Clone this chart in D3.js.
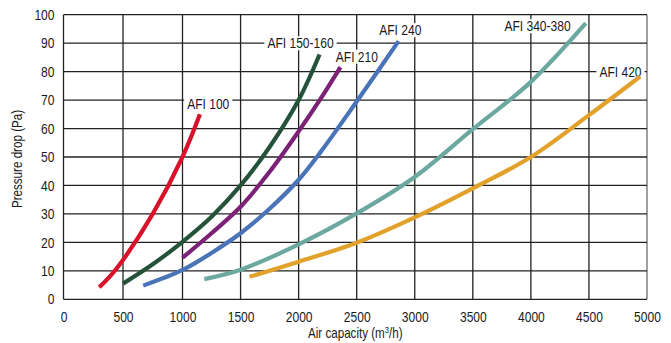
<!DOCTYPE html>
<html>
<head>
<meta charset="utf-8">
<script src="https://cdn.jsdelivr.net/npm/d3@7"></script>
<style>
  html, body { margin: 0; padding: 0; background: #fff; }
  svg { display: block; }
  text { font-family: "Liberation Sans", Arial, sans-serif; fill: #1a1a1a; }
</style>
</head>
<body>
<svg id="chart" width="671" height="343"></svg>
<script>
// Pressure drop curves per filter model: [air capacity m³/h, pressure drop Pa]
const afi100    = [[300, 4.2], [400, 8.5], [500, 13.8], [750, 30], [1000, 50], [1150, 65]];
const afi150160 = [[500, 5.5], [750, 12.3], [1000, 20.2], [1250, 29], [1500, 40], [1750, 53.5], [2000, 70], [2180, 86]];
const afi210    = [[1000, 14.6], [1250, 23.2], [1500, 32.5], [1750, 44.8], [2000, 59], [2190, 70.5], [2360, 81.6]];
const afi240    = [[670, 4.8], [1000, 10.3], [1250, 16.3], [1500, 23.2], [1750, 31.8], [2000, 42], [2190, 51.8], [2500, 69.5], [2861, 90.7]];
const afi340380 = [[1188, 7.1], [1500, 10.4], [2000, 19.3], [2500, 30.2], [3000, 43], [3500, 59.8], [4000, 76.4], [4473, 97]];
const afi420    = [[1578, 7.9], [2000, 13.2], [2500, 19.9], [3000, 28.8], [3500, 39], [4000, 50], [4500, 64.7], [4941, 78.3]];

const seriesNames  = ["AFI 100", "AFI 150-160", "AFI 210", "AFI 240", "AFI 340-380", "AFI 420"];
const seriesData   = [afi100, afi150160, afi210, afi240, afi340380, afi420];
const seriesColors = ["#d9112b", "#24533a", "#7b2277", "#4a74b8", "#6ba89f", "#e2a12a"];
// Where each curve's name sits, in data units (left edge of text, vertical centre)
const labelAnchors = [[1040, 68.8], [1731, 90], [2320, 85.3], [2694, 94.6], [3772, 96], [4590, 80]];

const xTicks = [0, 500, 1000, 1500, 2000, 2500, 3000, 3500, 4000, 4500, 5000];
const yTicks = [0, 10, 20, 30, 40, 50, 60, 70, 80, 90, 100];

// condensed lettering: squeeze each single-run text horizontally
const NARROW = 0.83;
function narrow(sel) {
  sel.each(function () {
    const len = this.getComputedTextLength();
    if (len > 0) {
      d3.select(this)
        .attr("textLength", len * NARROW)
        .attr("lengthAdjust", "spacingAndGlyphs");
    }
  });
}

const svg = d3.select("#chart");
// the first 1000 m³/h span is drawn slightly wider than the rest of the axis
const x = d3.scaleLinear().domain([0, 1000, 5000]).range([63.5, 182.5, 647]);
const y = d3.scaleLinear().domain([0, 100]).range([299.3, 14.7]);

// grid
const grid = svg.append("g");
grid.selectAll(".vg").data(xTicks).join("line")
  .attr("x1", d => x(d)).attr("x2", d => x(d))
  .attr("y1", y(0)).attr("y2", y(100))
  .attr("stroke", d => d === 5000 ? "#8a8a8a" : "#222")
  .attr("stroke-width", d => d === 5000 ? 1.6 : 1.3);
grid.selectAll(".hg").data(yTicks).join("line")
  .attr("x1", x(0)).attr("x2", x(5000))
  .attr("y1", d => y(d)).attr("y2", d => y(d))
  .attr("stroke", "#222").attr("stroke-width", 1.3);

// axes
const xAxis = svg.append("g").attr("transform", `translate(0,${y(0)})`)
  .call(d3.axisBottom(x).tickValues(xTicks).tickSize(0).tickPadding(12).tickFormat(d3.format("d")));
const yAxis = svg.append("g").attr("transform", `translate(${x(0)},0)`)
  .call(d3.axisLeft(y).tickValues(yTicks).tickSize(0).tickPadding(9).tickFormat(d3.format("d")));
[xAxis, yAxis].forEach(a => {
  a.select(".domain").remove();
  a.selectAll("text").style("font-size", "14.5px").attr("fill", "#1a1a1a").call(narrow);
});

// axis titles (the x title has a superscript, so it is squeezed as a whole group)
const xt = svg.append("g")
  .attr("transform", `translate(${(x(0) + x(5000)) / 2},338) scale(${NARROW},1)`)
  .append("text")
  .attr("text-anchor", "middle").style("font-size", "14px");
xt.append("tspan").text("Air capacity (m");
xt.append("tspan").text("3").style("font-size", "9px").attr("dy", -5);
xt.append("tspan").text("/h)").attr("dy", 5);

svg.append("text")
  .attr("transform", `translate(22,${(y(0) + y(100)) / 2 + 2}) rotate(-90)`)
  .attr("text-anchor", "middle").style("font-size", "14px")
  .text("Pressure drop (Pa)")
  .call(narrow);

// curve names on white boxes (under the curves, over the grid)
const labels = svg.append("g");
seriesNames.forEach((name, i) => {
  const [lx, ly] = labelAnchors[i];
  const g = labels.append("g");
  const t = g.append("text")
    .attr("x", x(lx)).attr("y", y(ly))
    .attr("dy", "0.35em")
    .style("font-size", "14.5px")
    .text(name)
    .call(narrow);
  const b = t.node().getBBox();
  g.insert("rect", "text")
    .attr("x", b.x - 3).attr("y", b.y + 1)
    .attr("width", b.width + 6).attr("height", b.height - 2)
    .attr("fill", "#fff");
});

// curves
const line = d3.line().x(d => x(d[0])).y(d => y(d[1])).curve(d3.curveCatmullRom.alpha(0.5));
svg.append("g").selectAll("path").data(seriesData).join("path")
  .attr("d", line)
  .attr("fill", "none")
  .attr("stroke", (d, i) => seriesColors[i])
  .attr("stroke-width", 4.2)
  .attr("stroke-linecap", "butt");
</script>
</body>
</html>
